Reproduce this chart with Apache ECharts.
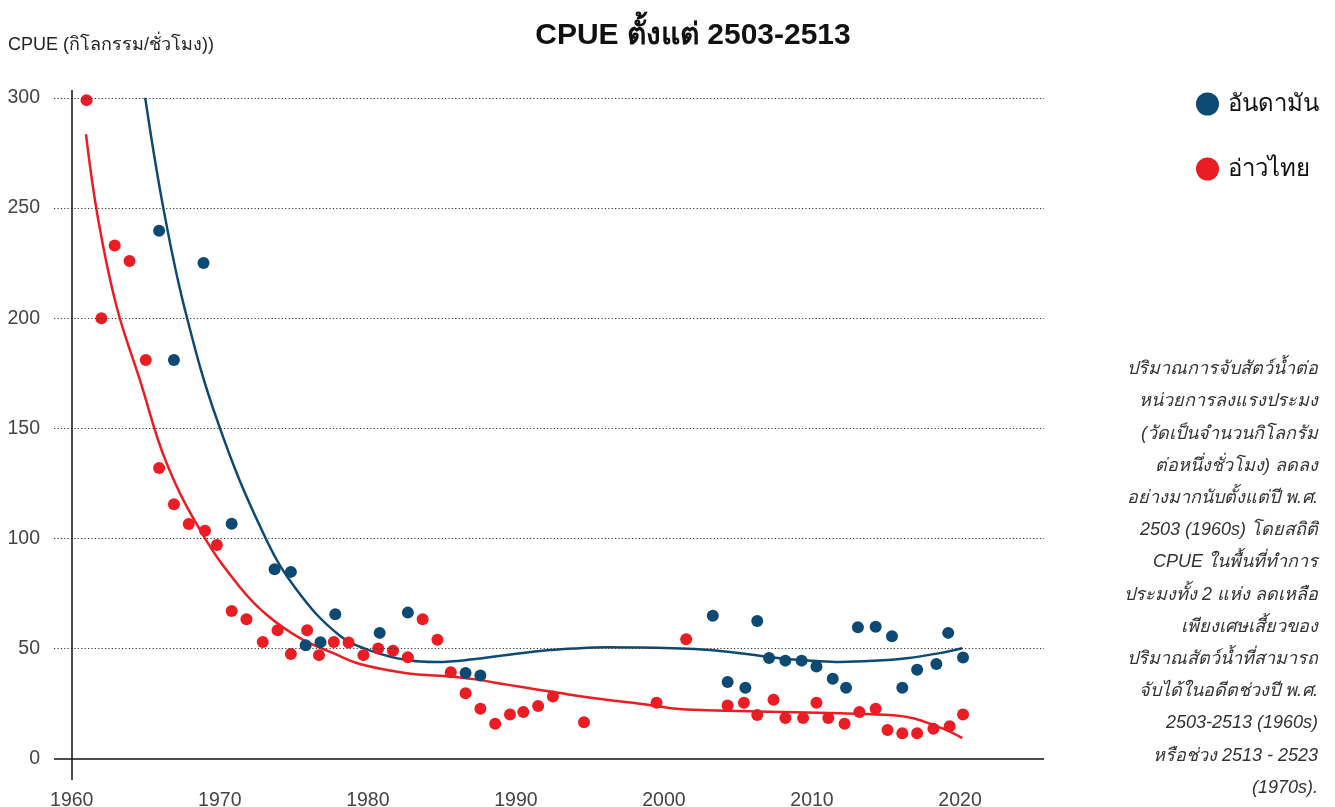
<!DOCTYPE html>
<html>
<head>
<meta charset="utf-8">
<script src="https://cdn.jsdelivr.net/npm/echarts@6/dist/echarts.min.js"></script>
<style>
html,body{margin:0;padding:0;background:#fff;}
#chart{width:1335px;height:807px;}
</style>
</head>
<body>
<div id="chart"></div>
<script>
// ---- data ----
const xTicks = [1960, 1970, 1980, 1990, 2000, 2010, 2020];
const yTicks = [0, 50, 100, 150, 200, 250, 300];

const andamanYears = [1965.9, 1966.9, 1968.9, 1970.8, 1973.7, 1974.8, 1975.8, 1976.8, 1977.8, 1980.8, 1982.7, 1986.6, 1987.6,
  2003.3, 2004.3, 2005.5, 2006.3, 2007.1, 2008.2, 2009.3, 2010.3, 2011.4, 2012.3, 2013.1, 2014.3, 2015.4, 2016.1, 2017.1, 2018.4, 2019.2, 2020.2];
const andamanCPUE = [239.7, 181, 225.1, 106.6, 86, 84.8, 51.5, 52.9, 65.6, 57.1, 66.3, 38.9, 37.7,
  64.9, 34.8, 32.2, 62.5, 45.7, 44.5, 44.5, 41.8, 36.3, 32.2, 59.7, 59.9, 55.6, 32.2, 40.4, 43, 57.1, 45.9];

const gulfYears = [1961.0, 1962.0, 1962.9, 1963.9, 1965.0, 1965.9, 1966.9, 1967.9, 1969.0, 1969.8, 1970.8, 1971.8, 1972.9, 1973.9,
  1974.8, 1975.9, 1976.7, 1977.7, 1978.7, 1979.7, 1980.7, 1981.7, 1982.7, 1983.7, 1984.7, 1985.6, 1986.6, 1987.6, 1988.6,
  1989.6, 1990.5, 1991.5, 1992.5, 1994.6, 1999.5, 2001.5, 2004.3, 2005.4, 2006.3, 2007.4, 2008.2, 2009.4, 2010.3, 2011.1,
  2012.2, 2013.2, 2014.3, 2015.1, 2016.1, 2017.1, 2018.2, 2019.3, 2020.2];
const gulfCPUE = [299, 200, 233, 226, 181, 132, 115.5, 106.5, 103.5, 97, 67, 63.3, 53, 58.3,
  47.5, 58.3, 47, 53, 52.7, 47, 50, 49, 46, 63.3, 54, 39.2, 29.7, 22.7, 15.8,
  20, 21.2, 23.9, 28.2, 16.5, 25.4, 54.2, 24.1, 25.4, 19.8, 26.7, 18.5, 18.5, 25.4, 18.5,
  15.8, 21.2, 22.7, 13, 11.5, 11.5, 13.6, 14.7, 20];

const andamanTrendYears = [1964.96, 1966.18, 1967.65, 1969.9, 1973.0, 1975.2, 1978.11, 1980.37, 1982.62, 1984.65, 1987.12,
  1989.38, 1991.62, 1993.87, 1996.13, 1998.38, 2000.63, 2002.88, 2005.13, 2006.94, 2008.51, 2010.09, 2011.89, 2014.14,
  2016.39, 2018.64, 2020.15];
const andamanTrendCPUE = [300, 250.2, 203.7, 152.1, 101.4, 76.6, 55.8, 48.6, 44.8, 43.9, 45.1,
  47.1, 48.9, 50, 50.6, 50.5, 50.1, 49.4, 47.9, 46.3, 45.1, 44.4, 43.9, 44.4,
  45.6, 47.9, 50.1];

const gulfTrendYears = [1960.96, 1961.79, 1963.03, 1964.6, 1966.41, 1968.88, 1971.36, 1973.16, 1975.41, 1977.66, 1979.46,
  1982.62, 1984.87, 1987.12, 1989.38, 1991.62, 1993.87, 1996.13, 1998.38, 2000.63, 2002.88, 2007.38, 2011.89, 2015.49,
  2016.84, 2018.19, 2019.32, 2020.15];
const gulfTrendCPUE = [283.5, 244.6, 205.2, 172, 134.1, 101.4, 77.8, 65.3, 54.7, 47.9, 43,
  38.8, 37.6, 36.1, 33.6, 31.2, 28.8, 26.7, 24.9, 22.8, 22.0, 21.3, 20.6, 19.7,
  18.3, 15.3, 12.3, 9.3];

const seriesNames = ['อันดามัน', 'อ่าวไทย'];
const titleText = 'CPUE ตั้งแต่ 2503-2513';
const yAxisTitle = 'CPUE (กิโลกรรม/ชั่วโมง))';
const noteLines = [
  'ปริมาณการจับสัตว์น้ำต่อ',
  'หน่วยการลงแรงประมง',
  '(วัดเป็นจำนวนกิโลกรัม',
  'ต่อหนึ่งชั่วโมง) ลดลง',
  'อย่างมากนับตั้งแต่ปี พ.ศ.',
  '2503 (1960s) โดยสถิติ',
  'CPUE ในพื้นที่ทำการ',
  'ประมงทั้ง 2 แห่ง ลดเหลือ',
  'เพียงเศษเสี้ยวของ',
  'ปริมาณสัตว์น้ำที่สามารถ',
  'จับได้ในอดีตช่วงปี พ.ศ.',
  '2503-2513 (1960s)',
  'หรือช่วง 2513 - 2523',
  '(1970s).'
];

// ---- chart ----
const BLUE = '#0d4a73';
const RED = '#ec1c24';
const FONT = "'Liberation Sans', 'Noto Sans', 'DejaVu Sans', sans-serif";

function zip(xs, ys) { return xs.map((x, i) => [x, ys[i]]); }

const chart = echarts.init(document.getElementById('chart'), null, { renderer: 'canvas' });

chart.setOption({
  backgroundColor: '#ffffff',
  animation: false,
  textStyle: { fontFamily: FONT },
  title: [
    { text: titleText, left: 693, top: 21, textAlign: 'center', padding: 0,
      textStyle: { fontSize: 30, fontWeight: 'bold', color: '#111', fontFamily: FONT } },
    { text: yAxisTitle, left: 8, top: 36, padding: 0,
      textStyle: { fontSize: 18, fontWeight: 'normal', color: '#222', fontFamily: FONT } },
    { text: noteLines.join('\n'), left: 1318, top: 353, textAlign: 'right', padding: 0,
      textStyle: { fontSize: 18, fontStyle: 'italic', fontWeight: 'normal', color: '#333', lineHeight: 32.2, fontFamily: FONT } }
  ],
  legend: {
    orient: 'vertical', left: 1196, top: 92, padding: 0,
    data: seriesNames,
    icon: 'circle', itemWidth: 23, itemHeight: 23, itemGap: 41,
    textStyle: { fontSize: 24, color: '#111', padding: [0, 0, 0, 4], fontFamily: FONT },
    selectedMode: false
  },
  grid: { left: 54, right: 291, top: 90, bottom: 27, containLabel: false, outerBoundsMode: 'none' },
  xAxis: {
    type: 'value', min: 1958.8, max: 2025.67, position: 'bottom',
    axisLine: { show: false, onZero: false },
    axisTick: { show: false },
    splitLine: { show: false },
    axisLabel: { show: true, customValues: xTicks, margin: 11, fontSize: 19.5, color: '#444', hideOverlap: false, formatter: v => String(v) }
  },
  yAxis: {
    type: 'value', min: -9.7, max: 303.6,
    axisLine: { show: false },
    axisTick: { show: false },
    splitLine: { show: false },
    axisLabel: { customValues: yTicks, margin: 14, fontSize: 19.5, color: '#444', formatter: v => String(v) }
  },
  series: [
    { // helper series for grid lines, x-axis line at 0 and y-axis line
      type: 'line', data: [], silent: true,
      markLine: {
        silent: true, symbol: 'none', label: { show: false },
        data: yTicks.map(v => (v === 0
            ? { yAxis: v, lineStyle: { color: '#111', width: 1.5, type: 'solid' } }
            : { yAxis: v, lineStyle: { color: '#333', width: 1, type: [1.2, 2.2] } }))
          .concat([{ xAxis: xTicks[0], lineStyle: { color: '#111', width: 1.5, type: 'solid' } }])
      }
    },
    { name: seriesNames[0] + ' trend', type: 'line', data: zip(andamanTrendYears, andamanTrendCPUE),
      smooth: 0.4, showSymbol: false, lineStyle: { color: BLUE, width: 2.5 }, itemStyle: { color: BLUE }, silent: true, z: 3 },
    { name: seriesNames[1] + ' trend', type: 'line', data: zip(gulfTrendYears, gulfTrendCPUE),
      smooth: 0.4, showSymbol: false, lineStyle: { color: RED, width: 2.5 }, itemStyle: { color: RED }, silent: true, z: 3 },
    { name: seriesNames[1], type: 'scatter', data: zip(gulfYears, gulfCPUE), symbolSize: 12,
      itemStyle: { color: RED, opacity: 1 }, z: 4 },
    { name: seriesNames[0], type: 'scatter', data: zip(andamanYears, andamanCPUE), symbolSize: 12,
      itemStyle: { color: BLUE, opacity: 1 }, z: 5 }
  ]
});
</script>
</body>
</html>
